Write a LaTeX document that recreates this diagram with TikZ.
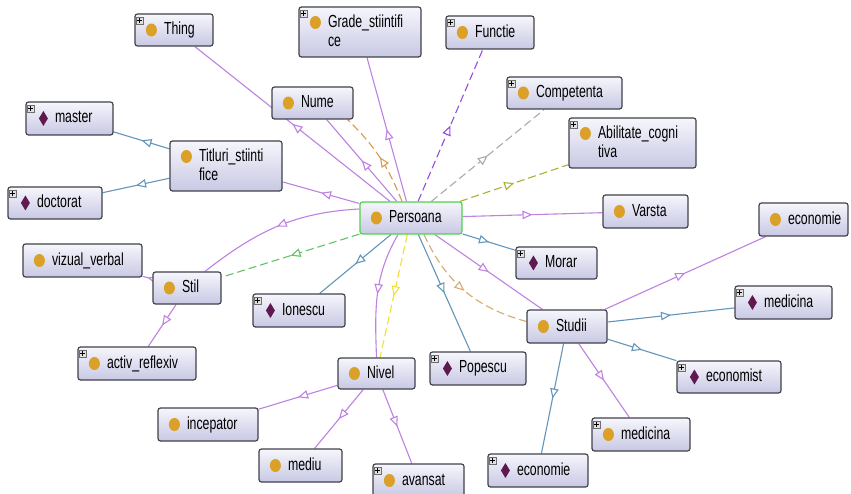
\documentclass[tikz,border=0pt]{standalone}
\usepackage{fontspec}
\setmainfont{Liberation Sans}
\usepackage{graphicx}
\usetikzlibrary{arrows.meta,decorations.markings}
\pgfdeclarelayer{edgelayer}
\pgfsetlayers{edgelayer,main}
\definecolor{subcol}{RGB}{190,130,225}
\definecolor{indcol}{RGB}{100,150,185}
\definecolor{fnccol}{RGB}{145,80,220}
\definecolor{compcol}{RGB}{170,170,170}
\definecolor{abilcol}{RGB}{175,175,50}
\definecolor{numcol}{RGB}{215,155,80}
\definecolor{stucol}{RGB}{215,170,110}
\definecolor{nivcol}{RGB}{240,225,50}
\definecolor{stilcol}{RGB}{100,195,100}
\definecolor{boxline}{RGB}{65,65,75}
\definecolor{boxtop}{RGB}{246,246,252}
\definecolor{boxbot}{RGB}{200,200,228}
\definecolor{clscol}{RGB}{218,160,40}
\definecolor{inddia}{RGB}{95,25,80}
\definecolor{perscol}{RGB}{80,210,80}
\newcommand\ntxt[1]{\hspace*{29pt}\rule[-3pt]{0pt}{15pt}\scalebox{1}[1.42]{#1}}
\newcommand\cico[2][0pt]{\fill[clscol] ([xshift=17pt,yshift=#1]#2.west) ellipse (5.5pt and 6.5pt);}
\newcommand\dico[1]{\fill[inddia] ([xshift=18pt]#1.west) +(0,7.5pt) -- +(4.5pt,0) -- +(0,-7.5pt) -- +(-4.5pt,0) -- cycle;}
\newcommand\pbox[1]{\draw[fill={rgb,255:red,225;green,225;blue,225}, draw={rgb,255:red,110;green,110;blue,110}, line width=0.5pt] ([xshift=1.5pt,yshift=-3.5pt]#1.north west) rectangle +(7.5pt,-7.5pt);
 \draw[black, line width=0.6pt] ([xshift=5.25pt,yshift=-4.8pt]#1.north west) -- +(0,-4.9pt) ([xshift=2.8pt,yshift=-7.25pt]#1.north west) -- +(4.9pt,0);}
\tikzset{
 box/.style={draw=boxline, line width=1.2pt, rounded corners=2.5pt, top color=boxtop, bottom color=boxbot, inner xsep=0pt, inner ysep=0pt, align=left, font=\fontsize{12.3}{19}\selectfont, text=black},
 midarr/.style={postaction={decorate,decoration={markings,mark=at position 0.5 with {\arrow{Triangle[length=10pt,width=8.5pt,fill=white]}}}}},
 subc/.style={draw=subcol, line width=1.1pt, midarr},
 indv/.style={draw=indcol, line width=1.1pt, midarr},
 dsh/.style={draw=#1, line width=1.1pt, dash pattern=on 8pt off 4pt, midarr},
}
\begin{document}
\begin{tikzpicture}[x=1pt,y=1pt]
\useasboundingbox (0,0) rectangle (851,-494);
% nodes
\node[box, text width=78pt, minimum height=32pt] (thing) at (174,-30) {\ntxt{Thing}};
\node[box, text width=122pt, minimum height=50pt] (grade) at (360,-32) {\ntxt{Grade\_stiintifi}\\\ntxt{ce}};
\node[box, text width=88pt, minimum height=33pt] (functie) at (490,-32.5) {\ntxt{Functie}};
\node[box, text width=81pt, minimum height=32pt] (nume) at (312.5,-103) {\ntxt{Nume}};
\node[box, text width=115pt, minimum height=32pt] (competenta) at (564.5,-93) {\ntxt{Competenta}};
\node[box, text width=127pt, minimum height=50pt] (abil) at (632.5,-143) {\ntxt{Abilitate\_cogni}\\\ntxt{tiva}};
\node[box, text width=87pt, minimum height=33pt] (master) at (69.5,-118.5) {\ntxt{master}};
\node[box, text width=112pt, minimum height=50pt] (titluri) at (226,-166) {\ntxt{Titluri\_stiinti}\\\ntxt{fice}};
\node[box, text width=94pt, minimum height=32pt] (doctorat) at (55,-203) {\ntxt{doctorat}};
\node[box, draw=perscol, text width=102pt, minimum height=32pt] (persoana) at (411,-218) {\ntxt{Persoana}};
\node[box, text width=85pt, minimum height=33pt] (varsta) at (645.5,-211.5) {\ntxt{Varsta}};
\node[box, text width=89pt, minimum height=33pt] (econcls) at (803.5,-219.5) {\ntxt{economie}};
\node[box, text width=119pt, minimum height=33pt] (vizual) at (82.5,-260.5) {\ntxt{vizual\_verbal}};
\node[box, text width=68pt, minimum height=32pt] (stil) at (187,-288) {\ntxt{Stil}};
\node[box, text width=92pt, minimum height=33pt] (ionescu) at (299,-310.5) {\ntxt{Ionescu}};
\node[box, text width=118pt, minimum height=33pt] (activ) at (137,-363.5) {\ntxt{activ\_reflexiv}};
\node[box, text width=100pt, minimum height=33pt] (incepator) at (208,-424.5) {\ntxt{incepator}};
\node[box, text width=83pt, minimum height=33pt] (mediu) at (300.5,-465.5) {\ntxt{mediu}};
\node[box, text width=81pt, minimum height=32pt] (morar) at (556.5,-263) {\ntxt{Morar}};
\node[box, text width=80pt, minimum height=33pt] (studii) at (567,-326.5) {\ntxt{Studii}};
\node[box, text width=77pt, minimum height=31pt] (nivel) at (376.5,-373.5) {\ntxt{Nivel}};
\node[box, text width=96pt, minimum height=33pt] (popescu) at (478,-368.5) {\ntxt{Popescu}};
\node[box, text width=91pt, minimum height=33pt] (avansat) at (418.5,-480.5) {\ntxt{avansat}};
\node[box, text width=100pt, minimum height=33pt] (econind) at (538,-470.5) {\ntxt{economie}};
\node[box, text width=97pt, minimum height=33pt] (medind) at (783.5,-302.5) {\ntxt{medicina}};
\node[box, text width=104pt, minimum height=32pt] (economist) at (729,-377) {\ntxt{economist}};
\node[box, text width=98pt, minimum height=33pt] (medcls) at (641,-434.5) {\ntxt{medicina}};
% icons
\cico{thing} \cico[9.5pt]{grade} \cico{functie} \cico{nume} \cico{competenta} \cico[9.5pt]{abil}
\cico[9.5pt]{titluri} \cico{persoana} \cico{varsta} \cico{econcls} \cico{vizual} \cico{stil}
\cico{activ} \cico{incepator} \cico{mediu} \cico{studii} \cico{nivel} \cico{avansat} \cico{medcls}
\dico{master} \dico{doctorat} \dico{ionescu} \dico{morar} \dico{popescu} \dico{econind} \dico{medind} \dico{economist}
% plus boxes
\pbox{thing} \pbox{grade} \pbox{functie} \pbox{competenta} \pbox{abil} \pbox{master} \pbox{doctorat}
\pbox{ionescu} \pbox{activ} \pbox{morar} \pbox{popescu} \pbox{avansat} \pbox{econind} \pbox{medind}
\pbox{economist} \pbox{medcls}
% edges
\begin{pgfonlayer}{edgelayer}
\fill[white] (0,0) rectangle (851,-494);
\draw[subc] (persoana) -- (thing);
\draw[subc] (persoana) -- (nume);
\draw[dsh=numcol] ([xshift=-9pt]persoana.north) to[bend right=12] ([xshift=-6pt]nume.south east);
\draw[subc] (persoana) -- (grade);
\draw[dsh=fnccol] (persoana) -- (functie);
\draw[dsh=compcol] (persoana) -- (competenta);
\draw[dsh=abilcol] (persoana) -- (abil);
\draw[subc] (persoana) -- (varsta);
\draw[subc] (persoana) -- (titluri);
\draw[subc] ([yshift=9pt]persoana.west) to[out=183,in=38] ([xshift=18pt]stil.north);
\draw[dsh=stilcol] (persoana) -- (stil);
\draw[indv] (persoana) -- (ionescu);
\draw[subc] ([xshift=-13pt]persoana.south) to[out=-120,in=92] (nivel.north);
\draw[dsh=nivcol] (persoana) -- (nivel);
\draw[indv] (persoana) -- (popescu);
\draw[subc] (persoana) -- (studii);
\draw[dsh=stucol] ([xshift=13pt]persoana.south) to[bend right=25] ([yshift=5pt]studii.west);
\draw[indv] (persoana) -- (morar);
\draw[subc] (studii) -- (econcls);
\draw[indv] (studii) -- (medind);
\draw[indv] (studii) -- (economist);
\draw[subc] (studii) -- (medcls);
\draw[indv] (studii) -- (econind);
\draw[subc] (nivel) -- (incepator);
\draw[subc] (nivel) -- (mediu);
\draw[subc] (nivel) -- (avansat);
\draw[subc] (stil) -- (vizual);
\draw[subc] (stil) -- (activ);
\draw[indv] (titluri) -- (master);
\draw[indv] (titluri) -- (doctorat);
\end{pgfonlayer}
\end{tikzpicture}
\end{document}
